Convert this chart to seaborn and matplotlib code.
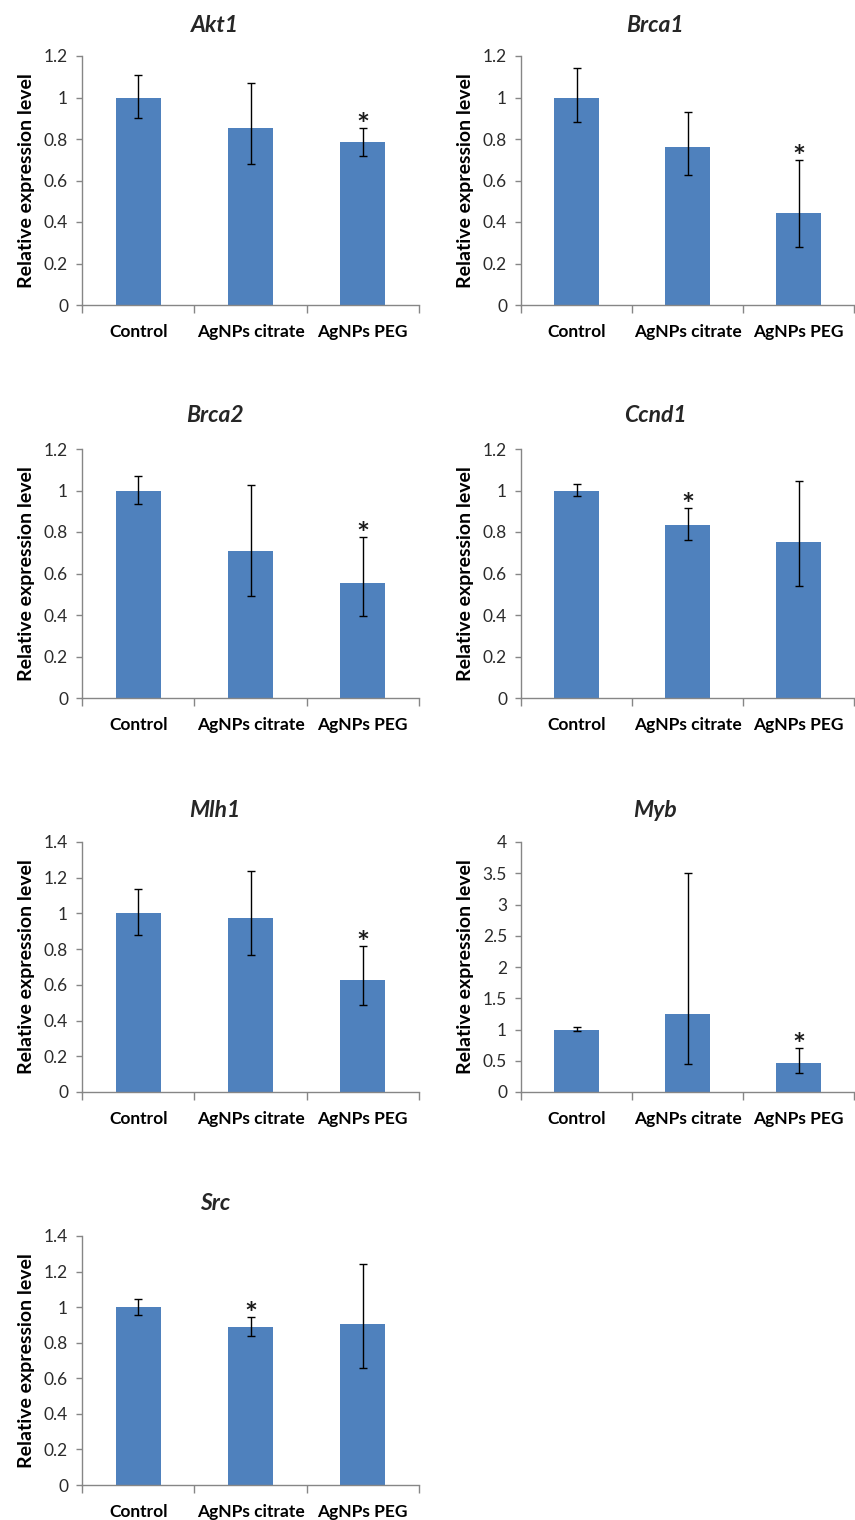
import numpy as np
import pandas as pd
import seaborn as sns
import matplotlib.pyplot as plt
from matplotlib.ticker import FixedLocator, FuncFormatter

sns.set_theme(style="ticks")
plt.rcParams['font.family'] = ['Lato', 'DejaVu Sans']

categories = ["Control", "AgNPs citrate", "AgNPs PEG"]
genes = ["Akt1", "Brca1", "Brca2", "Ccnd1", "Mlh1", "Myb", "Src"]

# mean relative expression, lower and upper error limits, significance flags
akt1_mean = [1.00, 0.855, 0.785]
akt1_low = [0.90, 0.68, 0.72]
akt1_high = [1.11, 1.07, 0.855]
akt1_sig = [False, False, True]

brca1_mean = [1.00, 0.76, 0.445]
brca1_low = [0.88, 0.625, 0.28]
brca1_high = [1.14, 0.93, 0.70]
brca1_sig = [False, False, True]

brca2_mean = [1.00, 0.71, 0.555]
brca2_low = [0.935, 0.49, 0.395]
brca2_high = [1.07, 1.025, 0.775]
brca2_sig = [False, False, True]

ccnd1_mean = [1.00, 0.835, 0.75]
ccnd1_low = [0.975, 0.76, 0.54]
ccnd1_high = [1.03, 0.915, 1.045]
ccnd1_sig = [False, True, False]

mlh1_mean = [1.00, 0.975, 0.63]
mlh1_low = [0.88, 0.765, 0.485]
mlh1_high = [1.135, 1.235, 0.815]
mlh1_sig = [False, False, True]

myb_mean = [1.00, 1.25, 0.46]
myb_low = [0.97, 0.45, 0.31]
myb_high = [1.04, 3.50, 0.71]
myb_sig = [False, False, True]

src_mean = [1.00, 0.89, 0.905]
src_low = [0.955, 0.84, 0.66]
src_high = [1.045, 0.945, 1.24]
src_sig = [False, True, False]

y_max = [1.2, 1.2, 1.2, 1.2, 1.4, 4.0, 1.4]
y_step = [0.2, 0.2, 0.2, 0.2, 0.2, 0.5, 0.2]

means = [akt1_mean, brca1_mean, brca2_mean, ccnd1_mean, mlh1_mean, myb_mean, src_mean]
lows = [akt1_low, brca1_low, brca2_low, ccnd1_low, mlh1_low, myb_low, src_low]
highs = [akt1_high, brca1_high, brca2_high, ccnd1_high, mlh1_high, myb_high, src_high]
sigs = [akt1_sig, brca1_sig, brca2_sig, ccnd1_sig, mlh1_sig, myb_sig, src_sig]

BAR = "#4F81BD"
AXIS = "#868686"
W, H = 855, 1520

fig = plt.figure(figsize=(W / 100, H / 100), dpi=100)

col_left = [82, 521]
col_width = [337, 333]
row_bottom = [305, 698, 1092, 1485]
row_height = [249, 249, 250, 249]
title_x = [215, 655]
title_y = [25, 415, 810, 1203]

for i, gene in enumerate(genes):
    row, col = divmod(i, 2)
    ax = fig.add_axes([col_left[col] / W, 1 - row_bottom[row] / H,
                       col_width[col] / W, row_height[row] / H])
    mean = np.array(means[i])
    low = np.array(lows[i])
    high = np.array(highs[i])
    df = pd.DataFrame({"group": categories, "value": mean})
    sns.barplot(data=df, x="group", y="value", color=BAR, saturation=1,
                width=0.4, errorbar=None, linewidth=0, ax=ax, zorder=2)
    ax.errorbar(np.arange(len(categories)), mean,
                yerr=[mean - low, high - mean], fmt="none", ecolor="black",
                elinewidth=1.0, capsize=3, capthick=1.0, zorder=3)
    for j, flag in enumerate(sigs[i]):
        if flag:
            ax.annotate("*", xy=(j, high[j]), xytext=(0, -5),
                        textcoords="offset points", ha="center", va="baseline",
                        fontsize=22, fontweight="bold", color="#1a1a1a")

    ax.set_xlim(-0.5, len(categories) - 0.5)
    ax.set_ylim(0, y_max[i])
    ticks = np.round(np.arange(0, y_max[i] + y_step[i] / 2, y_step[i]), 2)
    ax.yaxis.set_major_locator(FixedLocator(ticks))
    ax.yaxis.set_major_formatter(FuncFormatter(lambda v, p: f"{v:g}"))
    ax.xaxis.set_minor_locator(FixedLocator(np.arange(-0.5, len(categories), 1.0)))

    for s in ["top", "right"]:
        ax.spines[s].set_visible(False)
    for s in ["left", "bottom"]:
        ax.spines[s].set_color(AXIS)
        ax.spines[s].set_linewidth(1.0)

    ax.tick_params(axis="y", left=True, direction="out", length=4, width=1,
                   color=AXIS, labelsize=12.5, labelcolor="#2b2b2b", pad=6)
    ax.tick_params(axis="x", which="major", bottom=False, length=0,
                   labelsize=12.5, pad=14, labelcolor="black")
    ax.tick_params(axis="x", which="minor", bottom=True, direction="out",
                   length=6, width=1, color=AXIS)
    for lab in ax.get_xticklabels():
        lab.set_fontweight("bold")

    ax.set_xlabel("")
    ax.set_ylabel("Relative expression level", fontsize=14,
                  fontweight="bold", color="black")
    ax.yaxis.set_label_coords(-0.14, 0.5)

    fig.text(title_x[col] / W, 1 - title_y[row] / H, gene, ha="center",
             va="center", fontsize=16.5, fontweight="bold", style="italic")

fig.savefig("out.png", dpi=100, facecolor="white")
